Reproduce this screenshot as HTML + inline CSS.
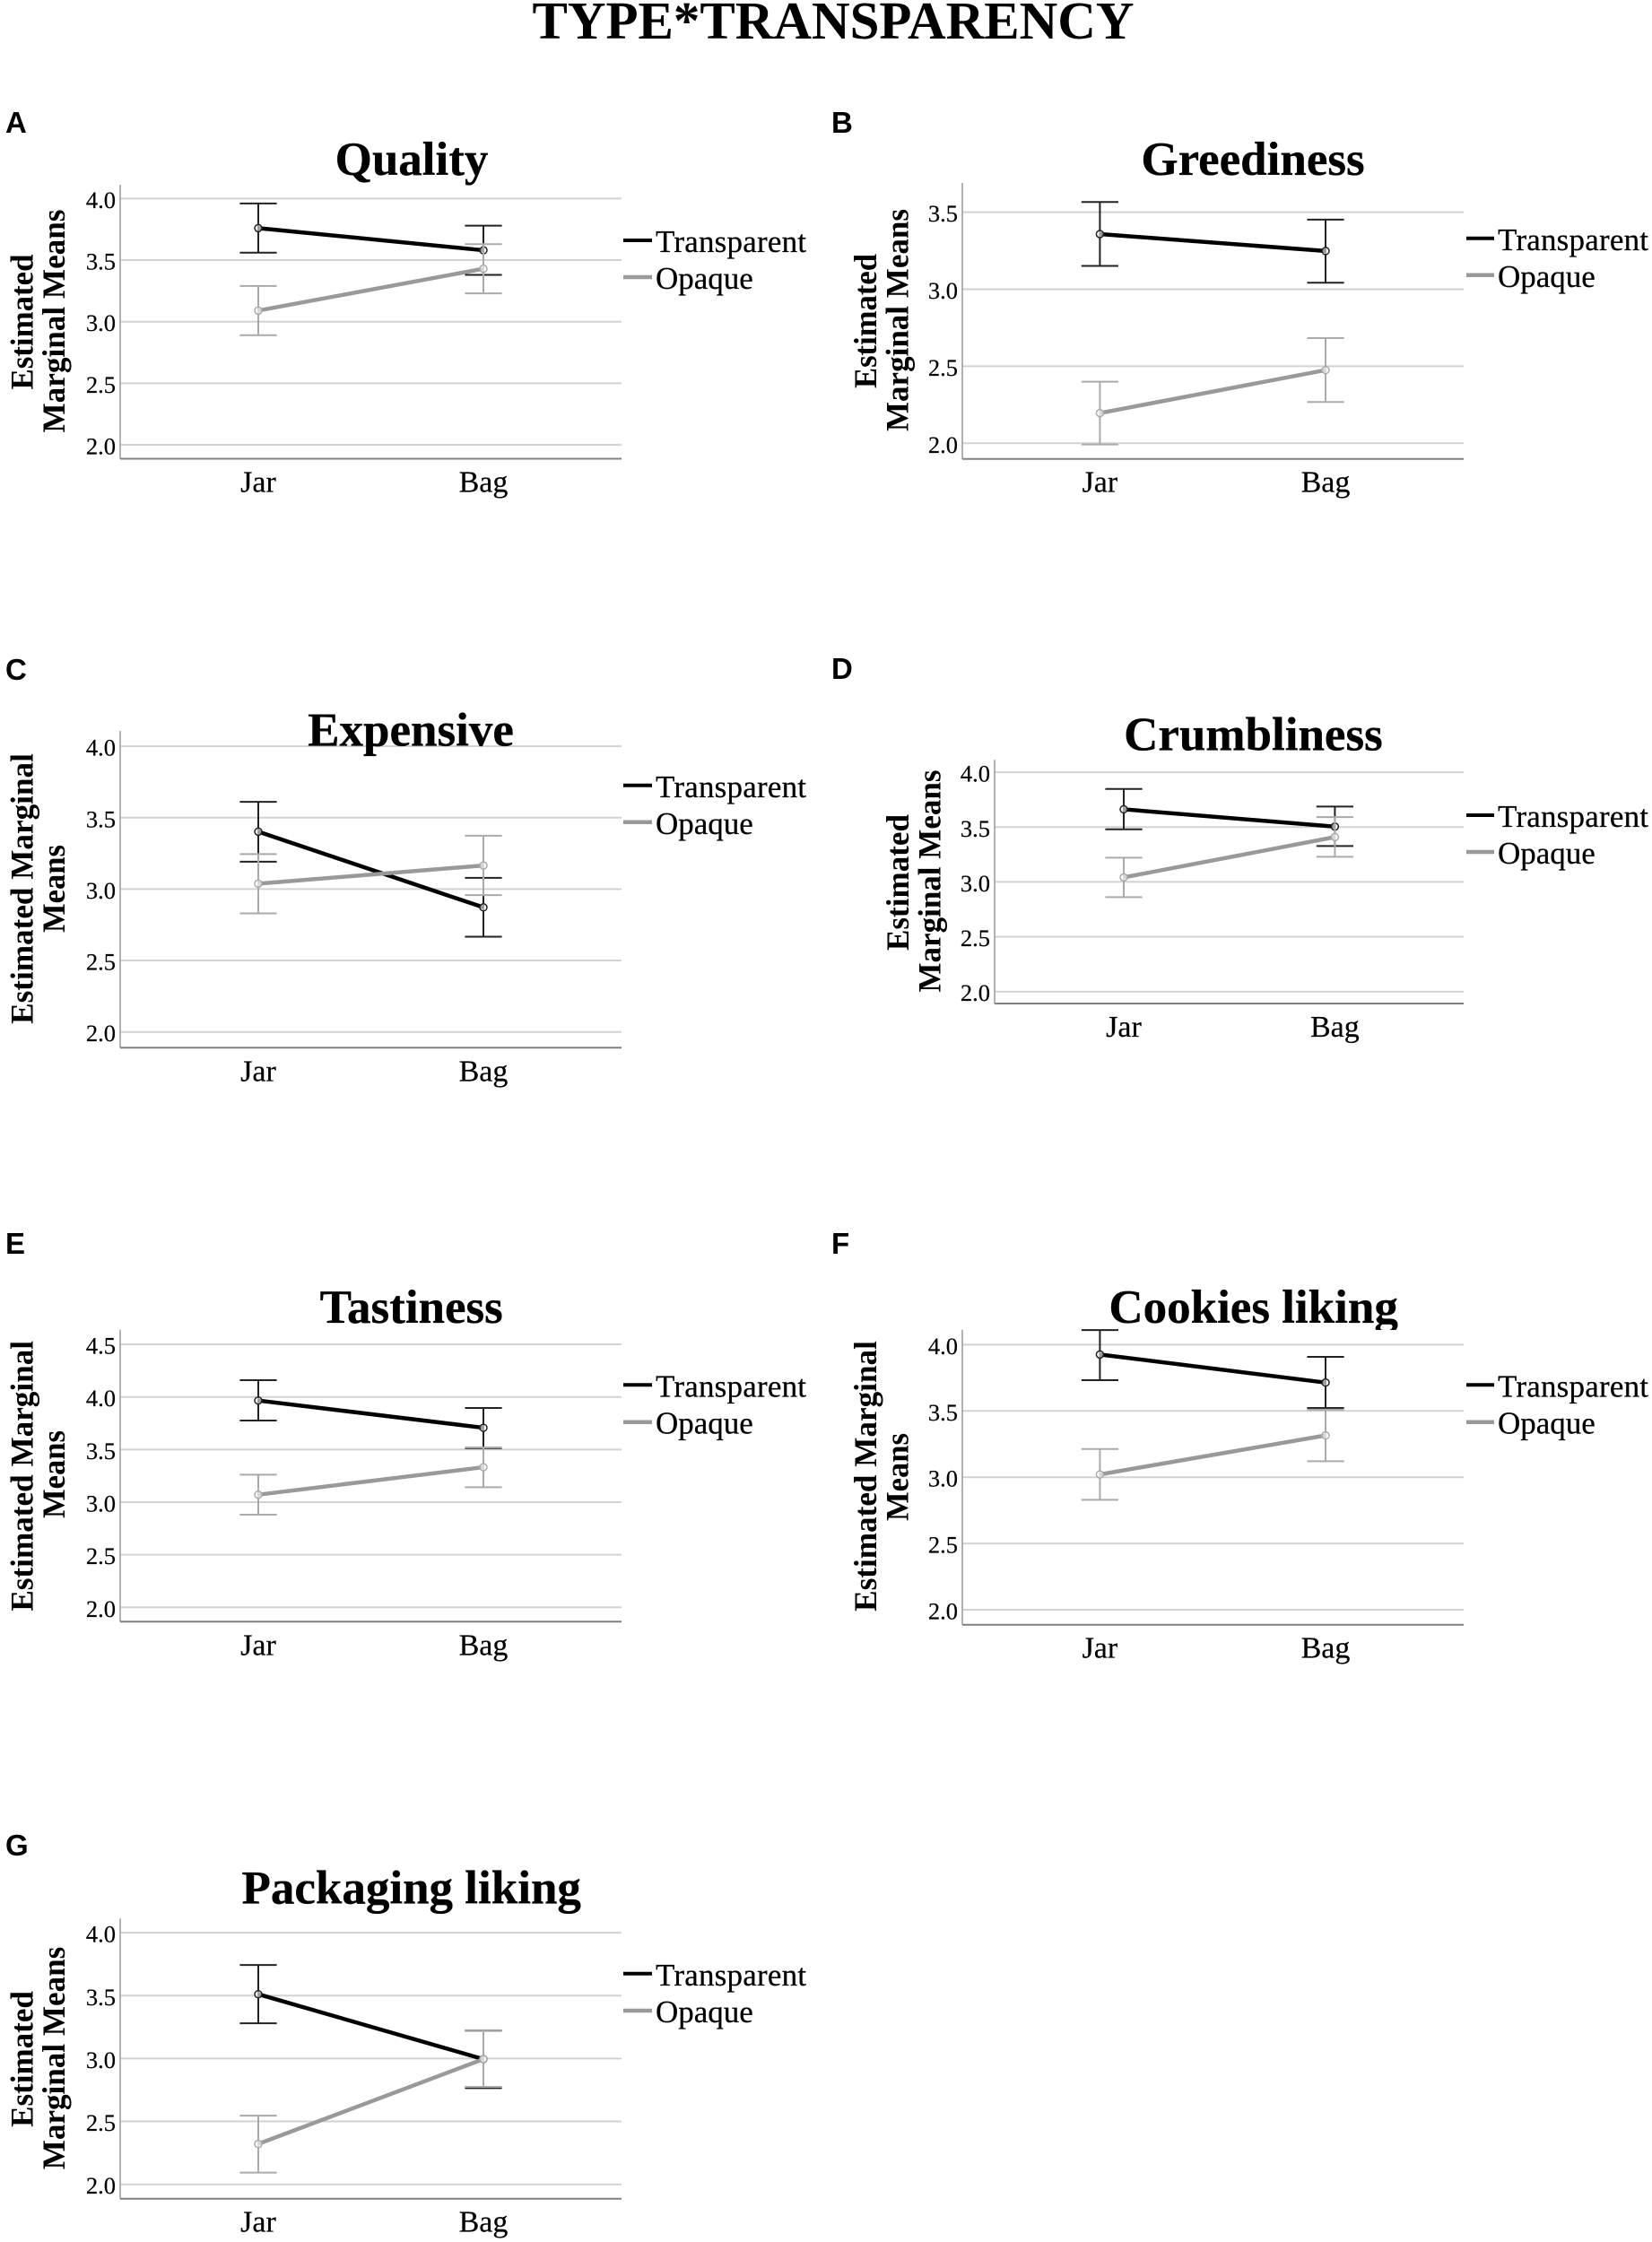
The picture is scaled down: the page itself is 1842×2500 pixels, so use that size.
<!DOCTYPE html>
<html lang="en">
<head>
<meta charset="utf-8">
<title>Type*Transparency</title>
<style>
html,body{margin:0;padding:0;background:#fff;}
svg{display:block;}
text{font-family:"Liberation Serif",serif;fill:#000;}
.main{font-size:59px;font-weight:bold;text-anchor:middle;}
.letter{font-family:"Liberation Sans",sans-serif;font-size:33px;font-weight:bold;}
.ttl{font-size:53px;font-weight:bold;text-anchor:middle;stroke:#000;stroke-width:.3px;}
.yt{font-size:36px;font-weight:bold;text-anchor:middle;}
.leg{font-size:35px;stroke:#000;stroke-width:.25px;}
.tick{font-size:26.5px;text-anchor:end;stroke:#000;stroke-width:.2px;}
.cat{font-size:34px;text-anchor:middle;stroke:#000;stroke-width:.2px;}
</style>
</head>
<body>
<svg id="figure" xmlns="http://www.w3.org/2000/svg" width="1842" height="2500" viewBox="0 0 1842 2500">
<rect width="1842" height="2500" fill="#fff"/>
<text class="main" x="929" y="43">TYPE*TRANSPARENCY</text>

<g>
<text class="letter" x="6" y="148">A</text>
<text class="ttl" x="459" y="195">Quality</text>
<text class="yt" transform="translate(36.4,359) rotate(-90)" textLength="151" lengthAdjust="spacingAndGlyphs">Estimated</text>
<text class="yt" transform="translate(72,358) rotate(-90)" textLength="249" lengthAdjust="spacingAndGlyphs">Marginal Means</text>
<g>
<line x1="695" x2="727" y1="268" y2="268" stroke="#000" stroke-width="4"/>
<text class="leg" x="731" y="281" textLength="168">Transparent</text>
<line x1="695" x2="727" y1="309" y2="309" stroke="#999" stroke-width="4.5"/>
<text class="leg" x="731" y="322">Opaque</text>
</g>
<g id="plot-quality"></g>
</g>

<g>
<text class="letter" x="927" y="148">B</text>
<text class="ttl" x="1397" y="195">Greediness</text>
<text class="yt" transform="translate(977,358) rotate(-90)" textLength="150" lengthAdjust="spacingAndGlyphs">Estimated</text>
<text class="yt" transform="translate(1012.6,357) rotate(-90)" textLength="248" lengthAdjust="spacingAndGlyphs">Marginal Means</text>
<g>
<line x1="1635" x2="1666" y1="265.7" y2="265.7" stroke="#000" stroke-width="4"/>
<text class="leg" x="1670" y="279" textLength="168">Transparent</text>
<line x1="1635" x2="1666" y1="306.7" y2="306.7" stroke="#999" stroke-width="4.5"/>
<text class="leg" x="1670" y="320">Opaque</text>
</g>
<g id="plot-greediness"></g>
</g>

<g>
<text class="letter" x="6" y="758">C</text>
<text class="yt" transform="translate(36.4,991) rotate(-90)" textLength="301.7" lengthAdjust="spacingAndGlyphs">Estimated Marginal</text>
<text class="yt" transform="translate(72,991) rotate(-90)" textLength="98" lengthAdjust="spacingAndGlyphs">Means</text>
<g>
<line x1="695" x2="727" y1="875.7" y2="875.7" stroke="#000" stroke-width="4"/>
<text class="leg" x="731" y="889" textLength="168">Transparent</text>
<line x1="695" x2="727" y1="916.7" y2="916.7" stroke="#999" stroke-width="4.5"/>
<text class="leg" x="731" y="930">Opaque</text>
</g>
<g id="plot-expensive"></g>
<text class="ttl" x="458" y="831.7">Expensive</text>
</g>

<g>
<text class="letter" x="927" y="757">D</text>
<text class="ttl" x="1397.4" y="836.7">Crumbliness</text>
<text class="yt" transform="translate(1013,984) rotate(-90)" textLength="152" lengthAdjust="spacingAndGlyphs">Estimated</text>
<text class="yt" transform="translate(1048.6,982.5) rotate(-90)" textLength="248" lengthAdjust="spacingAndGlyphs">Marginal Means</text>
<g>
<line x1="1635" x2="1666" y1="909" y2="909" stroke="#000" stroke-width="4"/>
<text class="leg" x="1670" y="922" textLength="168">Transparent</text>
<line x1="1635" x2="1666" y1="950" y2="950" stroke="#999" stroke-width="4.5"/>
<text class="leg" x="1670" y="963">Opaque</text>
</g>
<g id="plot-crumbliness"></g>
</g>

<g>
<text class="letter" x="6" y="1398">E</text>
<text class="ttl" x="458.7" y="1475">Tastiness</text>
<text class="yt" transform="translate(36.4,1645.8) rotate(-90)" textLength="301.7" lengthAdjust="spacingAndGlyphs">Estimated Marginal</text>
<text class="yt" transform="translate(72,1644) rotate(-90)" textLength="98" lengthAdjust="spacingAndGlyphs">Means</text>
<g>
<line x1="695" x2="727" y1="1544.3" y2="1544.3" stroke="#000" stroke-width="4"/>
<text class="leg" x="731" y="1557.5" textLength="168">Transparent</text>
<line x1="695" x2="727" y1="1585.7" y2="1585.7" stroke="#999" stroke-width="4.5"/>
<text class="leg" x="731" y="1598.5">Opaque</text>
</g>
<g id="plot-tastiness"></g>
</g>

<g>
<text class="letter" x="927" y="1398">F</text>
<text class="ttl" x="1397.6" y="1475">Cookies liking</text>
<rect x="1073" y="1483" width="559" height="12" fill="#fff"/>
<text class="yt" transform="translate(977,1646) rotate(-90)" textLength="301.7" lengthAdjust="spacingAndGlyphs">Estimated Marginal</text>
<text class="yt" transform="translate(1012.6,1647) rotate(-90)" textLength="98" lengthAdjust="spacingAndGlyphs">Means</text>
<g>
<line x1="1635" x2="1666" y1="1544.3" y2="1544.3" stroke="#000" stroke-width="4"/>
<text class="leg" x="1670" y="1557.5" textLength="168">Transparent</text>
<line x1="1635" x2="1666" y1="1585.7" y2="1585.7" stroke="#999" stroke-width="4.5"/>
<text class="leg" x="1670" y="1598.5">Opaque</text>
</g>
<g id="plot-cookies"></g>
</g>

<g>
<text class="letter" x="6" y="2069">G</text>
<text class="ttl" x="458.7" y="2122.7">Packaging liking</text>
<text class="yt" transform="translate(36.4,2296) rotate(-90)" textLength="151.7" lengthAdjust="spacingAndGlyphs">Estimated</text>
<text class="yt" transform="translate(72,2295) rotate(-90)" textLength="248.6" lengthAdjust="spacingAndGlyphs">Marginal Means</text>
<g>
<line x1="695" x2="727" y1="2200.7" y2="2200.7" stroke="#000" stroke-width="4"/>
<text class="leg" x="731" y="2214" textLength="168">Transparent</text>
<line x1="695" x2="727" y1="2242" y2="2242" stroke="#999" stroke-width="4.5"/>
<text class="leg" x="731" y="2255">Opaque</text>
</g>
<g id="plot-packaging"></g>
</g>
</svg>

<script>
const categories = ['Jar', 'Bag'];

const ticksQuality = ['2.0', '2.5', '3.0', '3.5', '4.0'];
const ticksGreediness = ['2.0', '2.5', '3.0', '3.5'];
const ticksExpensive = ['2.0', '2.5', '3.0', '3.5', '4.0'];
const ticksCrumbliness = ['2.0', '2.5', '3.0', '3.5', '4.0'];
const ticksTastiness = ['2.0', '2.5', '3.0', '3.5', '4.0', '4.5'];
const ticksCookies = ['2.0', '2.5', '3.0', '3.5', '4.0'];
const ticksPackaging = ['2.0', '2.5', '3.0', '3.5', '4.0'];

const qualityTransparent = [3.76, 3.58];
const qualityTransparentLow = [3.56, 3.38];
const qualityTransparentHigh = [3.96, 3.78];
const qualityOpaque = [3.09, 3.43];
const qualityOpaqueLow = [2.89, 3.23];
const qualityOpaqueHigh = [3.29, 3.63];

const greedinessTransparent = [3.358, 3.248];
const greedinessTransparentLow = [3.151, 3.042];
const greedinessTransparentHigh = [3.566, 3.452];
const greedinessOpaque = [2.196, 2.475];
const greedinessOpaqueLow = [1.992, 2.268];
const greedinessOpaqueHigh = [2.40, 2.683];

const expensiveTransparent = [3.402, 2.872];
const expensiveTransparentLow = [3.192, 2.667];
const expensiveTransparentHigh = [3.611, 3.079];
const expensiveOpaque = [3.038, 3.165];
const expensiveOpaqueLow = [2.83, 2.958];
const expensiveOpaqueHigh = [3.245, 3.374];

const crumblinessTransparent = [3.662, 3.504];
const crumblinessTransparentLow = [3.48, 3.327];
const crumblinessTransparentHigh = [3.847, 3.687];
const crumblinessOpaque = [3.041, 3.409];
const crumblinessOpaqueLow = [2.861, 3.229];
const crumblinessOpaqueHigh = [3.221, 3.591];

const tastinessTransparent = [3.966, 3.707];
const tastinessTransparentLow = [3.776, 3.514];
const tastinessTransparentHigh = [4.159, 3.895];
const tastinessOpaque = [3.071, 3.332];
const tastinessOpaqueLow = [2.881, 3.142];
const tastinessOpaqueHigh = [3.261, 3.52];

const cookiesTransparent = [3.926, 3.714];
const cookiesTransparentLow = [3.732, 3.522];
const cookiesTransparentHigh = [4.11, 3.908];
const cookiesOpaque = [3.021, 3.315];
const cookiesOpaqueLow = [2.83, 3.121];
const cookiesOpaqueHigh = [3.213, 3.51];

const packagingTransparent = [3.511, 2.995];
const packagingTransparentLow = [3.28, 2.765];
const packagingTransparentHigh = [3.743, 3.222];
const packagingOpaque = [2.321, 2.995];
const packagingOpaqueLow = [2.093, 2.775];
const packagingOpaqueHigh = [2.546, 3.225];

const SVG_NS = 'http://www.w3.org/2000/svg';

function svgEl(tag, attrs, parent) {
  const el = document.createElementNS(SVG_NS, tag);
  for (const k in attrs) el.setAttribute(k, attrs[k]);
  parent.appendChild(el);
  return el;
}

function drawSeries(parent, name, color, means, lows, highs, xScale, yScale) {
  const group = svgEl('g', {}, parent);
  
  
  means.forEach(function (m, i) {
    const cx = xScale(i);
    const stem = svgEl('line', {x1: cx, x2: cx, y1: yScale(lows[i]), y2: yScale(highs[i]), stroke: color === '#000' ? '#222' : '#aaa', 'stroke-width': 2}, group);
    
    
    [lows[i], highs[i]].forEach(function (v) {
      const cap = svgEl('line', {x1: cx - 20.6, x2: cx + 20.6, y1: yScale(v), y2: yScale(v), stroke: color === '#000' ? '#222' : '#aaa', 'stroke-width': 2}, group);
      
      
    });
  });
  const line = svgEl('line', {x1: xScale(0), x2: xScale(1), y1: yScale(means[0]), y2: yScale(means[1]), stroke: color, 'stroke-width': 4.5}, group);
  
  
  means.forEach(function (m, i) {
    const dot = svgEl('circle', {cx: xScale(i), cy: yScale(m), r: 4, fill: '#fff', 'fill-opacity': 0.6, stroke: color === '#000' ? '#222' : '#aaa', 'stroke-width': 1.5}, group);
    
    
  });
}

function drawPanel(p) {
  const root = document.getElementById(p.id);
  const yScale = function (v) { return p.y2 - (v - 2) * p.pxPerUnit; };
  const xScale = function (i) { return p.xJar + i * (p.xBag - p.xJar); };

  p.ticks.forEach(function (label) {
    const v = parseFloat(label);
    const grid = svgEl('line', {x1: p.left, x2: p.right, y1: yScale(v), y2: yScale(v), stroke: '#d2d2d2', 'stroke-width': 2}, root);
    
    
    const t = svgEl('text', {class: 'tick', x: p.left - 5, y: yScale(v) + 10.5}, root);
    t.textContent = label;
    
    
  });

  const yAxis = svgEl('line', {x1: p.left, x2: p.left, y1: p.top, y2: p.base, stroke: '#999', 'stroke-width': 1.5}, root);
  
  
  const xAxis = svgEl('line', {x1: p.left, x2: p.right, y1: p.base, y2: p.base, stroke: '#808080', 'stroke-width': 2}, root);
  
  

  categories.forEach(function (c, i) {
    const t = svgEl('text', {class: 'cat', x: xScale(i), y: p.base + 37}, root);
    t.textContent = c;
    
    
  });

  drawSeries(root, 'transparent', '#000', p.t, p.tLow, p.tHigh, xScale, yScale);
  drawSeries(root, 'opaque', '#999', p.o, p.oLow, p.oHigh, xScale, yScale);
}

drawPanel({id: 'plot-quality', left: 134, right: 693, top: 206, base: 511.5, xJar: 288, xBag: 539, y2: 496, pxPerUnit: 137.3,
  ticks: ticksQuality, t: qualityTransparent, tLow: qualityTransparentLow, tHigh: qualityTransparentHigh,
  o: qualityOpaque, oLow: qualityOpaqueLow, oHigh: qualityOpaqueHigh});
drawPanel({id: 'plot-greediness', left: 1073, right: 1632, top: 204, base: 511.7, xJar: 1226.4, xBag: 1478, y2: 494.3, pxPerUnit: 171.8,
  ticks: ticksGreediness, t: greedinessTransparent, tLow: greedinessTransparentLow, tHigh: greedinessTransparentHigh,
  o: greedinessOpaque, oLow: greedinessOpaqueLow, oHigh: greedinessOpaqueHigh});
drawPanel({id: 'plot-expensive', left: 134, right: 693, top: 815, base: 1168.3, xJar: 288, xBag: 539, y2: 1150.7, pxPerUnit: 159.3,
  ticks: ticksExpensive, t: expensiveTransparent, tLow: expensiveTransparentLow, tHigh: expensiveTransparentHigh,
  o: expensiveOpaque, oLow: expensiveOpaqueLow, oHigh: expensiveOpaqueHigh});
drawPanel({id: 'plot-crumbliness', left: 1109, right: 1632, top: 847.3, base: 1119, xJar: 1253, xBag: 1488.4, y2: 1105.7, pxPerUnit: 122.3,
  ticks: ticksCrumbliness, t: crumblinessTransparent, tLow: crumblinessTransparentLow, tHigh: crumblinessTransparentHigh,
  o: crumblinessOpaque, oLow: crumblinessOpaqueLow, oHigh: crumblinessOpaqueHigh});
drawPanel({id: 'plot-tastiness', left: 134, right: 693, top: 1482.7, base: 1808.3, xJar: 288, xBag: 539, y2: 1792.3, pxPerUnit: 117.3,
  ticks: ticksTastiness, t: tastinessTransparent, tLow: tastinessTransparentLow, tHigh: tastinessTransparentHigh,
  o: tastinessOpaque, oLow: tastinessOpaqueLow, oHigh: tastinessOpaqueHigh});
drawPanel({id: 'plot-cookies', left: 1073, right: 1632, top: 1482.7, base: 1811.7, xJar: 1226.4, xBag: 1478, y2: 1795, pxPerUnit: 147.8,
  ticks: ticksCookies, t: cookiesTransparent, tLow: cookiesTransparentLow, tHigh: cookiesTransparentHigh,
  o: cookiesOpaque, oLow: cookiesOpaqueLow, oHigh: cookiesOpaqueHigh});
drawPanel({id: 'plot-packaging', left: 134, right: 693, top: 2139.3, base: 2451.7, xJar: 288, xBag: 539, y2: 2435.7, pxPerUnit: 140.3,
  ticks: ticksPackaging, t: packagingTransparent, tLow: packagingTransparentLow, tHigh: packagingTransparentHigh,
  o: packagingOpaque, oLow: packagingOpaqueLow, oHigh: packagingOpaqueHigh});
</script>
</body>
</html>
